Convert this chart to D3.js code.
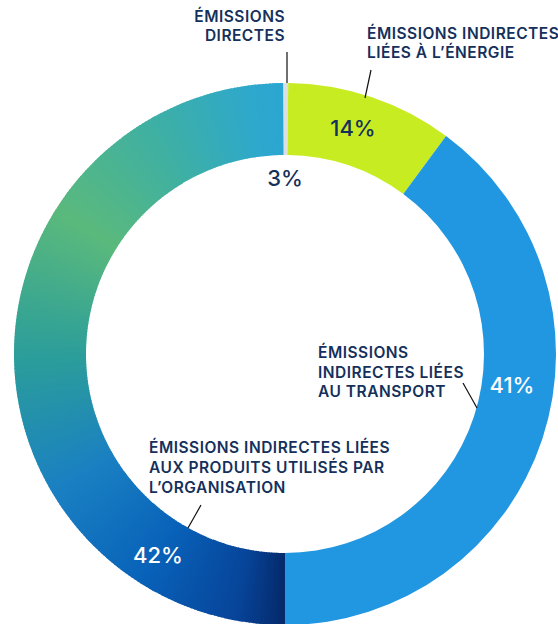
<!DOCTYPE html>
<html>
<head>
<meta charset="utf-8">
<script src="https://cdn.jsdelivr.net/npm/d3@7"></script>
<style>
  html, body { margin: 0; padding: 0; background: #fff; }
  svg { display: block; }
  text { font-family: Inter, "Noto Sans", sans-serif; }
</style>
</head>
<body>
<svg id="chart" width="558" height="624"></svg>
<script>
// ---- data ----
const categories = [
  "ÉMISSIONS DIRECTES",
  "ÉMISSIONS INDIRECTES LIÉES À L’ÉNERGIE",
  "ÉMISSIONS INDIRECTES LIÉES AU TRANSPORT",
  "ÉMISSIONS INDIRECTES LIÉES AUX PRODUITS UTILISÉS PAR L’ORGANISATION"
];
// arc sizes as drawn in the picture (share of the full circle, %)
const arcShares = [0.3, 9.94, 39.86, 49.9];
// printed percentage labels
const percentLabels = ["3%", "14%", "41%", "42%"];
const labelLines = [
  ["ÉMISSIONS", "DIRECTES"],
  ["ÉMISSIONS INDIRECTES", "LIÉES À L’ÉNERGIE"],
  ["ÉMISSIONS", "INDIRECTES LIÉES", "AU TRANSPORT"],
  ["ÉMISSIONS INDIRECTES LIÉES", "AUX PRODUITS UTILISÉS PAR", "L’ORGANISATION"]
];

// ---- layout / style ----
const W = 558, H = 624;
const cx = 285, cy = 354, rOuter = 271, rInner = 199;
const startOffset = -0.4 * Math.PI / 180;
const solidColors = ["#dcdfe2", "#c8ec22", "#2196e1", null];
const gradientStops = [
  [0.00, "#06296a"],
  [0.06, "#07459a"],
  [0.18, "#0862b9"],
  [0.33, "#1a80c2"],
  [0.50, "#2c9e9a"],
  [0.68, "#5ab97c"],
  [0.83, "#3fb0a2"],
  [0.96, "#2ea8cc"],
  [1.00, "#2ba6d2"]
];
const textColor = "#14305b";

const svg = d3.select("#chart");
const g = svg.append("g").attr("transform", `translate(${cx},${cy})`);

const pie = d3.pie().sort(null).value(d => d)
  .startAngle(startOffset).endAngle(startOffset + 2 * Math.PI);
const arcs = pie(arcShares);
const arcGen = d3.arc().innerRadius(rInner).outerRadius(rOuter);

const colorAt = d3.scaleLinear()
  .domain(gradientStops.map(s => s[0]))
  .range(gradientStops.map(s => s[1]))
  .interpolate(d3.interpolateRgb);

arcs.forEach((a, i) => {
  if (solidColors[i]) {
    g.append("path").attr("d", arcGen(a)).attr("fill", solidColors[i]);
  } else {
    const n = 240;
    const span = a.endAngle - a.startAngle;
    const parts = d3.range(n).map(k => ({
      startAngle: a.startAngle + span * k / n,
      endAngle: Math.min(a.endAngle, a.startAngle + span * (k + 1) / n + 0.004),
      t: (k + 0.5) / n
    }));
    g.selectAll(null).data(parts).join("path")
      .attr("d", d => arcGen(d))
      .attr("fill", d => colorAt(d.t));
  }
});

// ---- percent labels ----
const pctPos = [
  {x: 285, y: 186, color: textColor},
  {x: 353, y: 136, color: textColor},
  {x: 512, y: 393, color: "#ffffff"},
  {x: 158, y: 563, color: "#ffffff"}
];
svg.selectAll(".pct").data(percentLabels).join("text")
  .attr("class", "pct")
  .attr("x", (d, i) => pctPos[i].x)
  .attr("y", (d, i) => pctPos[i].y)
  .attr("text-anchor", "middle")
  .attr("font-size", 22)
  .attr("font-weight", 500)
  .attr("fill", (d, i) => pctPos[i].color)
  .text(d => d);

// ---- category labels ----
const labelPos = [
  {x: 285, y: 22, anchor: "end", lh: 19},
  {x: 367, y: 39, anchor: "start", lh: 19},
  {x: 318, y: 358, anchor: "start", lh: 19.5},
  {x: 149, y: 453, anchor: "start", lh: 20}
];
labelLines.forEach((lines, i) => {
  const p = labelPos[i];
  const t = svg.append("text")
    .attr("x", p.x).attr("y", p.y)
    .attr("text-anchor", p.anchor)
    .attr("font-size", 15.5)
    .attr("font-weight", 600)
    .attr("letter-spacing", 0.5)
    .attr("fill", textColor)
    .attr("aria-label", categories[i]);
  lines.forEach((ln, j) => {
    t.append("tspan").attr("x", p.x).attr("y", p.y + j * p.lh).text(ln);
  });
});

// ---- leader lines ----
const leaders = [
  [[287, 52], [287, 83]],
  [[371, 70], [365, 98]],
  [[463, 383], [477, 408]],
  [[201, 505], [188, 528]]
];
svg.selectAll(".leader").data(leaders).join("line")
  .attr("class", "leader")
  .attr("x1", d => d[0][0]).attr("y1", d => d[0][1])
  .attr("x2", d => d[1][0]).attr("y2", d => d[1][1])
  .attr("stroke", "#111")
  .attr("stroke-width", 1.2);
</script>
</body>
</html>
